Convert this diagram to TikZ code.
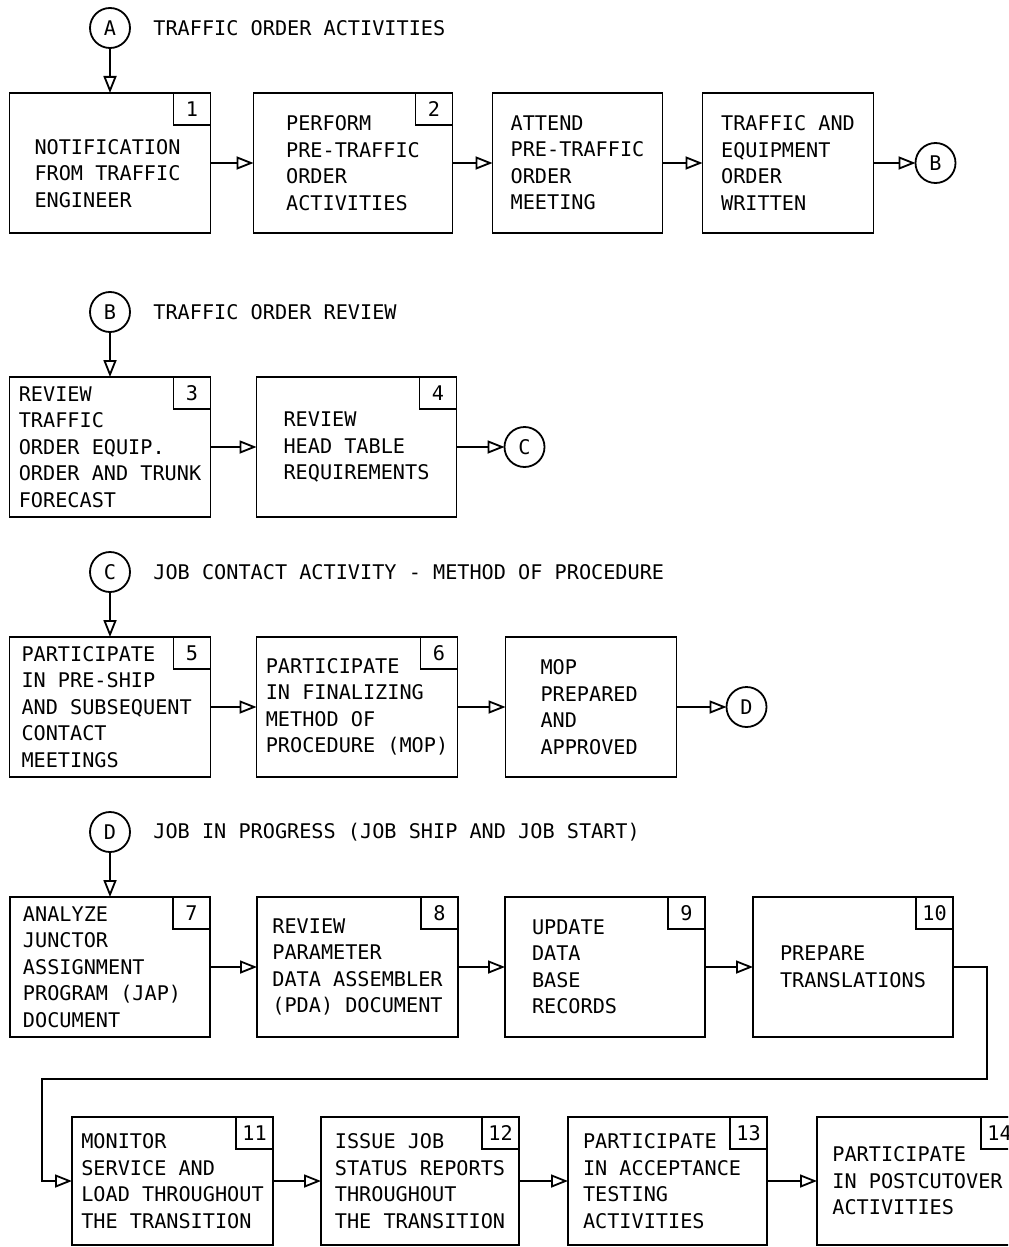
\documentclass[tikz,border=0pt]{standalone}
\usepackage{fontspec}
\setmainfont{DejaVu Sans Mono}
\usetikzlibrary{shapes,arrows.meta,positioning}

\begin{document}
\begin{tikzpicture}[node distance = 22.5pt, auto, font=\fontsize{10.1pt}{13.25pt}\selectfont]
	\tikzstyle{block} = [rectangle, draw, line width=0.9pt, fill=white, align=left, minimum height=70pt, inner sep=2pt, outer sep=0pt, execute at begin node={\spaceskip=0pt\relax}]
	\tikzstyle{lowblock} = [block, minimum height=64pt]
	\tikzstyle{numbox} = [rectangle, draw, line width=0.9pt, anchor=north east, minimum width=18.5pt, minimum height=16pt, inner sep=0pt, outer sep=0pt]
	\tikzstyle{conn} = [circle, draw, line width=0.9pt, minimum size=20pt, inner sep=0pt, outer sep=0pt]
	\tikzstyle{heading} = [inner sep=0pt, anchor=west]
	\tikzstyle{line} = [draw, line width=0.9pt, -{Triangle[open, length=8.5pt, width=6.5pt]}]

	\useasboundingbox (0,0) rectangle (504pt,-623.5pt);
	\clip (0,0) rectangle (504pt,-623.5pt);

	\node [conn] (conA) at (55pt,-14pt) {A};
	\node [heading, right=11.5pt of conA] (titleA) {TRAFFIC ORDER ACTIVITIES};
	\node [block, below=of conA, minimum width=100.5pt, text width=75.5pt, text height=18pt] (notify) {NOTIFICATION\\FROM TRAFFIC\\ENGINEER};
	\node [block, right=21.5pt of notify, minimum width=99.5pt] (pretraffic) {PERFORM\\PRE-TRAFFIC\\ORDER\\ACTIVITIES};
	\node [block, right=20pt of pretraffic, minimum width=85pt] (attend) {ATTEND\\PRE-TRAFFIC\\ORDER\\MEETING};
	\node [block, right=20pt of attend, minimum width=85.5pt] (written) {TRAFFIC AND\\EQUIPMENT\\ORDER\\WRITTEN};
	\node [conn, right=21pt of written] (outB) {B};

	\node [conn] (inB) at (55pt,-156pt) {B};
	\node [heading, right=11.5pt of inB] (titleB) {TRAFFIC ORDER REVIEW};
	\node [block, below=of inB, minimum width=100.5pt] (trafficrev) {REVIEW\\TRAFFIC\\ORDER EQUIP.\\ORDER AND TRUNK\\FORECAST};
	\node [block, right=23pt of trafficrev, minimum width=100pt] (headtable) {REVIEW\\HEAD TABLE\\REQUIREMENTS};
	\node [conn, right=24pt of headtable] (outC) {C};

	\node [conn] (inC) at (55pt,-286pt) {C};
	\node [heading, right=11.5pt of inC] (titleC) {JOB CONTACT ACTIVITY - METHOD OF PROCEDURE};
	\node [block, below=of inC, minimum width=100.5pt, text width=88.5pt] (preship) {PARTICIPATE\\IN PRE-SHIP\\AND SUBSEQUENT\\CONTACT\\MEETINGS};
	\node [block, right=23pt of preship, minimum width=100.5pt] (finalize) {PARTICIPATE\\IN FINALIZING\\METHOD OF\\PROCEDURE (MOP)};
	\node [block, right=24pt of finalize, minimum width=85.5pt, text width=50.5pt] (mopready) {MOP\\PREPARED\\AND\\APPROVED};
	\node [conn, right=25pt of mopready] (outD) {D};

	\node [conn] (inD) at (55pt,-416pt) {D};
	\node [heading, right=11.5pt of inD] (titleD) {JOB IN PROGRESS (JOB SHIP AND JOB START)};
	\node [block, below=of inD, minimum width=100pt, text width=87pt] (analyze) {ANALYZE\\JUNCTOR\\ASSIGNMENT\\PROGRAM (JAP)\\DOCUMENT};
	\node [block, right=23.5pt of analyze, minimum width=100.5pt] (pdareview) {REVIEW\\PARAMETER\\DATA ASSEMBLER\\(PDA) DOCUMENT};
	\node [block, right=23.5pt of pdareview, minimum width=100pt, text width=73pt] (database) {UPDATE\\DATA\\BASE\\RECORDS};
	\node [block, right=24pt of database, minimum width=100pt] (translate) {PREPARE\\TRANSLATIONS};

	\node [lowblock, minimum width=100.5pt] (monitor) at (86.25pt,-590.5pt) {MONITOR\\SERVICE AND\\LOAD THROUGHOUT\\THE TRANSITION};
	\node [lowblock, right=24pt of monitor, minimum width=99pt] (statusrep) {ISSUE JOB\\STATUS REPORTS\\THROUGHOUT\\THE TRANSITION};
	\node [lowblock, right=24.5pt of statusrep, minimum width=99.5pt, text width=84.5pt] (acceptance) {PARTICIPATE\\IN ACCEPTANCE\\TESTING\\ACTIVITIES};
	\node [lowblock, right=25pt of acceptance, minimum width=100.5pt] (postcut) {PARTICIPATE\\IN POSTCUTOVER\\ACTIVITIES};

	\node [numbox] (num1) at (notify.north east) {1};
	\node [numbox] (num2) at (pretraffic.north east) {2};
	\node [numbox] (num3) at (trafficrev.north east) {3};
	\node [numbox] (num4) at (headtable.north east) {4};
	\node [numbox] (num5) at (preship.north east) {5};
	\node [numbox] (num6) at (finalize.north east) {6};
	\node [numbox] (num7) at (analyze.north east) {7};
	\node [numbox] (num8) at (pdareview.north east) {8};
	\node [numbox] (num9) at (database.north east) {9};
	\node [numbox] (num10) at (translate.north east) {10};
	\node [numbox] (num11) at (monitor.north east) {11};
	\node [numbox] (num12) at (statusrep.north east) {12};
	\node [numbox] (num13) at (acceptance.north east) {13};
	\node [numbox] (num14) at (postcut.north east) {14};

	\coordinate (loopturn) at (21pt,-539.5pt);

	\path [line] (conA) -- (notify);
	\path [line] (notify) -- (pretraffic);
	\path [line] (pretraffic) -- (attend);
	\path [line] (attend) -- (written);
	\path [line] (written) -- (outB);
	\path [line] (inB) -- (trafficrev);
	\path [line] (trafficrev) -- (headtable);
	\path [line] (headtable) -- (outC);
	\path [line] (inC) -- (preship);
	\path [line] (preship) -- (finalize);
	\path [line] (finalize) -- (mopready);
	\path [line] (mopready) -- (outD);
	\path [line] (inD) -- (analyze);
	\path [line] (analyze) -- (pdareview);
	\path [line] (pdareview) -- (database);
	\path [line] (database) -- (translate);
	\path [line] (translate.east) -- ++(17pt,0) |- (loopturn) |- (monitor.west);
	\path [line] (monitor) -- (statusrep);
	\path [line] (statusrep) -- (acceptance);
	\path [line] (acceptance) -- (postcut);

\end{tikzpicture}
\end{document}
